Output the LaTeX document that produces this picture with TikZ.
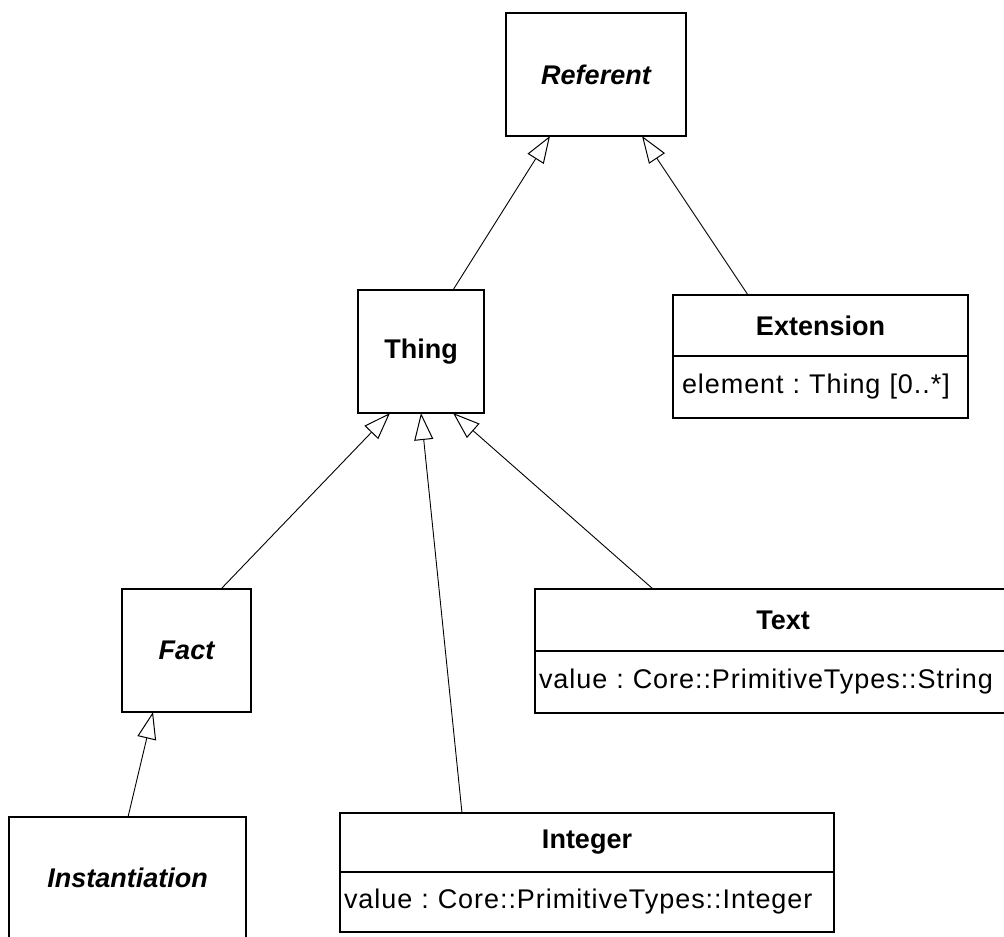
\documentclass[tikz,border=0pt]{standalone}
\usepackage{fontspec}
\setmainfont{Liberation Sans}
\newfontfamily\attrfont[LetterSpace=3.5]{Liberation Sans}
\usetikzlibrary{arrows.meta,positioning}
\frenchspacing

\begin{document}
\begin{tikzpicture}[x=1pt, y=-1pt, every node/.style={align=center, font=\fontsize{27}{32}\selectfont, fill=white, outer sep=0pt, inner sep=0pt},
    classbox/.style={rectangle, draw, line width=1.4pt, font=\fontsize{27}{32}\selectfont\bfseries},
    abstractbox/.style={classbox, font=\fontsize{27}{32}\selectfont\bfseries\itshape},
    attrbox/.style={rectangle, draw, line width=1.4pt, align=left, inner xsep=9pt, minimum height=62pt, font=\attrfont\fontsize{27}{32}\selectfont},
    inherit/.style={-{Triangle[open, length=27pt, width=19pt, line width=1pt]}, line width=0.9pt}]
        \clip (0,0) rectangle (1004,937);

        \node (referent) [abstractbox, minimum width=180pt, minimum height=123pt] at (596,74.5) {Referent};
        \node (thing) [classbox, minimum width=126pt, minimum height=123pt] at (421,351.5) {Thing};
        \node (ext) [classbox, minimum width=295pt, minimum height=61pt] at (820.5,325.5) {Extension};
        \node (ext-attr) [attrbox, below=0pt of ext, text width=277pt] {element : Thing [0..*]};
        \node (fact) [abstractbox, minimum width=129pt, minimum height=123pt] at (186.5,650.5) {Fact};
        \node (text) [classbox, minimum width=496pt, minimum height=62pt] at (783,620) {Text};
        \node (text-attr) [attrbox, below=0pt of text, text width=478pt, inner xsep=4pt, text width=488pt] {value : Core::PrimitiveTypes::String};
        \node (inst) [abstractbox, minimum width=237pt, minimum height=122pt] at (127.5,878) {Instantiation};
        \node (int) [classbox, minimum width=494pt, minimum height=59pt] at (587,842.5) {Integer};
        \node (int-attr) [attrbox, below=0pt of int, inner xsep=4pt, text width=486pt, minimum height=60pt] {value : Core::PrimitiveTypes::Integer};

        \draw[inherit] ([xshift=32pt]thing.north) -- ([xshift=-46pt]referent.south);
        \draw[inherit] ([xshift=-72.5pt]ext.north) -- ([xshift=46pt]referent.south);
        \draw[inherit] ([xshift=34.5pt]fact.north) -- ([xshift=-31pt]thing.south);
        \draw[inherit] ([xshift=-125pt]int.north) -- (thing.south);
        \draw[inherit] ([xshift=-130pt]text.north) -- ([xshift=32pt]thing.south);
        \draw[inherit] ([xshift=0.5pt]inst.north) -- ([xshift=-33.5pt]fact.south);
    \end{tikzpicture}
\end{document}
